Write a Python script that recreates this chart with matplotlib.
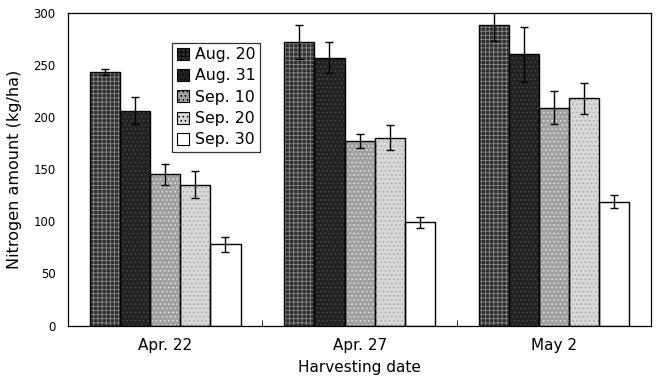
import numpy as np
import matplotlib
matplotlib.use("Agg")
import matplotlib.pyplot as plt
from matplotlib.patches import Patch

dates = ["Apr. 22", "Apr. 27", "May 2"]
sowing = ["Aug. 20", "Aug. 31", "Sep. 10", "Sep. 20", "Sep. 30"]

# nitrogen amount (kg/ha) per sowing date, one value per harvesting date
aug20 = [243, 272, 288]
aug31 = [206, 257, 260]
sep10 = [145, 177, 209]
sep20 = [135, 180, 218]
sep30 = [78, 99, 119]
aug20_err = [3, 16, 15]
aug31_err = [13, 15, 26]
sep10_err = [10, 7, 16]
sep20_err = [13, 12, 15]
sep30_err = [7, 5, 6]

values = [aug20, aug31, sep10, sep20, sep30]
errors = [aug20_err, aug31_err, sep10_err, sep20_err, sep30_err]

faces = ["#2e2e2e", "#222222", "#a0a0a0", "#d8d8d8", "white"]
hatch_cols = ["#8a8a8a", "#4a4a4a", "#e0e0e0", "#a8a8a8", "white"]
hatches = ["++++", "....", "....", "....", None]

plt.rcParams['font.family'] = ['DejaVu Sans']
plt.rcParams['hatch.linewidth'] = 0.6

fig = plt.figure(figsize=(6.61, 3.76), dpi=100)
ax = fig.add_axes([0.103, 0.134, 0.882, 0.832])

x = np.arange(len(dates)) + 0.5
w = 0.155
handles = []
for i in range(5):
    pos = x + (i - 2) * w
    ax.bar(pos, values[i], w, color=faces[i], hatch=hatches[i],
           edgecolor=hatch_cols[i], linewidth=0, zorder=2)
    ax.bar(pos, values[i], w, fill=False, edgecolor="black", linewidth=1.0, zorder=3)
    ax.errorbar(pos, values[i], yerr=errors[i], fmt="none", ecolor="black",
                elinewidth=1.0, capsize=3, capthick=1.0, zorder=4)
    handles.append(Patch(facecolor=faces[i], hatch=hatches[i],
                         edgecolor="black", linewidth=0.8))

ax.set_xlim(0, 3)
ax.set_ylim(0, 300)
ax.set_yticks([0, 50, 100, 150, 200, 250, 300])
ax.set_xticks(x)
ax.set_xticklabels(dates, fontsize=11)
ax.set_xticks([1, 2], minor=True)
ax.tick_params(axis="x", which="major", length=0, pad=9)
ax.tick_params(axis="x", which="minor", direction="in", length=4)
ax.tick_params(axis="y", length=0, labelsize=8.5, pad=9)
ax.set_xlabel("Harvesting date", fontsize=11, labelpad=5)
ax.set_ylabel("Nitrogen amount (kg/ha)", fontsize=11.5, labelpad=8)
for s in ax.spines.values():
    s.set_linewidth(0.9)

leg = ax.legend(handles, sowing, loc="upper left", bbox_to_anchor=(0.178, 0.905),
                fontsize=11.3, frameon=True, fancybox=False, edgecolor="black",
                handlelength=0.8, handleheight=0.8, handletextpad=0.35,
                borderpad=0.3, labelspacing=0.4, borderaxespad=0)
leg.get_frame().set_linewidth(0.9)

fig.savefig("out.png", dpi=100)
